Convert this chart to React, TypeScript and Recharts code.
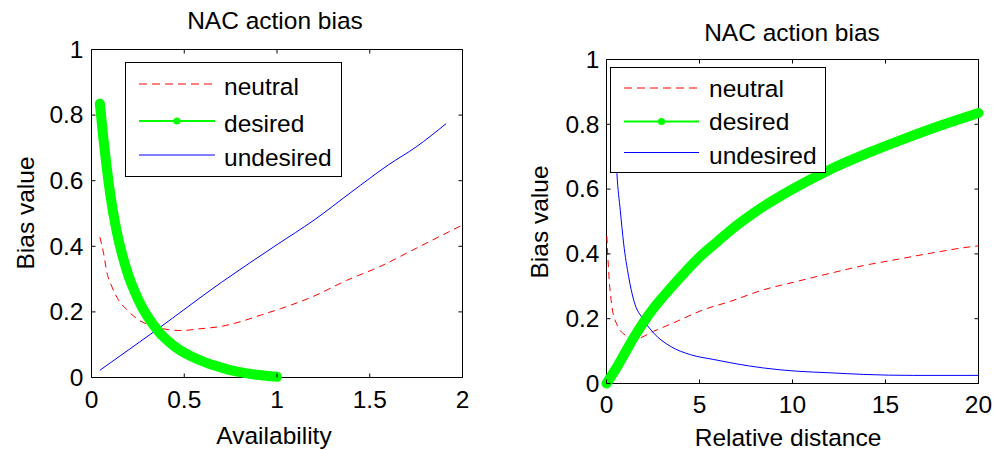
import { Label, Legend, Line, LineChart, ReferenceArea, XAxis, YAxis } from "recharts";

const FONT = '"Liberation Sans", Arial, Helvetica, sans-serif';
const FS = 24.5;
const RED = "#ff0000";
const GREEN = "#00ff00";
const BLUE = "#0000ff";

// --- left panel: bias vs availability ---
const availTicks = [0, 0.5, 1, 1.5, 2];
const biasTicks = [0, 0.2, 0.4, 0.6, 0.8, 1];

const neutralAvailX = [0.045, 0.065, 0.082, 0.109, 0.145, 0.19, 0.253, 0.324, 0.414, 0.486, 0.575, 0.7, 0.808, 0.916, 1.02, 1.195, 1.375, 1.554, 1.733, 1.912, 2.0];
const neutralAvailY = [0.428, 0.379, 0.323, 0.278, 0.237, 0.207, 0.176, 0.158, 0.146, 0.143, 0.148, 0.156, 0.171, 0.191, 0.21, 0.247, 0.296, 0.338, 0.389, 0.44, 0.465];

const desiredAvailX = [0.045, 0.063, 0.081, 0.102, 0.134, 0.188, 0.254, 0.362, 0.45, 0.575, 0.66, 0.737, 0.88, 1.0];
const desiredAvailY = [0.835, 0.735, 0.645, 0.555, 0.45, 0.33, 0.235, 0.14, 0.094, 0.055, 0.037, 0.024, 0.009, 0.002];

const undesiredAvailX = [0.045, 0.35, 0.7, 1.0, 1.2, 1.4, 1.6, 1.75, 1.912];
const undesiredAvailY = [0.022, 0.145, 0.29, 0.405, 0.48, 0.565, 0.648, 0.703, 0.774];

// --- right panel: bias vs relative distance ---
const distTicks = [0, 5, 10, 15, 20];

const neutralDistX = [0.02, 0.11, 0.29, 0.56, 1.09, 1.5, 2.53, 3.79, 5.23, 6.63, 8.43, 10.23, 12.02, 13.82, 15.62, 17.41, 19.57, 20];
const neutralDistY = [0.455, 0.351, 0.238, 0.182, 0.146, 0.137, 0.161, 0.192, 0.228, 0.253, 0.289, 0.315, 0.34, 0.364, 0.383, 0.402, 0.422, 0.425];

const desiredDistX = [0, 0.5, 1, 1.5, 2, 2.5, 3, 4, 5, 6, 7, 8, 10, 12, 14, 16, 18, 20];
const desiredDistY = [0, 0.045, 0.095, 0.145, 0.19, 0.23, 0.265, 0.33, 0.39, 0.44, 0.488, 0.53, 0.6, 0.66, 0.71, 0.755, 0.797, 0.835];

const undesiredDistX = [0.38, 0.45, 0.56, 0.74, 0.92, 1.19, 1.46, 1.99, 2.53, 3.43, 4.51, 5.77, 6.85, 8.43, 10.23, 12.02, 13.82, 16.5, 20];
const undesiredDistY = [0.9, 0.78, 0.648, 0.535, 0.433, 0.33, 0.258, 0.197, 0.156, 0.115, 0.089, 0.074, 0.062, 0.048, 0.038, 0.033, 0.028, 0.025, 0.025];

const seriesNames = ["neutral", "desired", "undesired"];

type Pt = { x: number; y: number };
const toPoints = (xs: number[], ys: number[]): Pt[] => xs.map((x, i) => ({ x, y: ys[i] }));

type Frame = { left: number; right: number; top: number; bottom: number };

const LEFT_FRAME: Frame = { left: 91.5, right: 462.5, top: 49.5, bottom: 377.5 };
const RIGHT_FRAME: Frame = { left: 106.5, right: 478.5, top: 59.5, bottom: 383.5 };

// Matlab-style ticks: short marks pointing inwards on both opposite edges
function BottomTick(props: any) {
  const { payload, frame, labelDy } = props;
  const cx = payload.coordinate;
  return (
    <g>
      <line x1={cx} x2={cx} y1={frame.bottom} y2={frame.bottom - 4} stroke="#000" />
      <line x1={cx} x2={cx} y1={frame.top} y2={frame.top + 4} stroke="#000" />
      <text x={cx} y={frame.bottom + labelDy} textAnchor="middle" fontSize={FS} fontFamily={FONT} fill="#000">
        {payload.value}
      </text>
    </g>
  );
}

function LeftTick(props: any) {
  const { payload, frame, labelDx } = props;
  const cy = payload.coordinate;
  return (
    <g>
      <line x1={frame.left} x2={frame.left + 4} y1={cy} y2={cy} stroke="#000" />
      <line x1={frame.right} x2={frame.right - 4} y1={cy} y2={cy} stroke="#000" />
      <text x={frame.left - labelDx} y={cy + 8.3} textAnchor="end" fontSize={FS} fontFamily={FONT} fill="#000">
        {payload.value}
      </text>
    </g>
  );
}

type LegendLayout = {
  w: number;
  h: number;
  lineX1: number;
  lineX2: number;
  textX: number;
  lineY: number[];
  baseY: number[];
};

function LegendBox({ layout }: { layout: LegendLayout }) {
  const { w, h, lineX1, lineX2, textX, lineY, baseY } = layout;
  const mid = (lineX1 + lineX2) / 2;
  return (
    <div style={{ width: w, height: h, boxSizing: "border-box", border: "1px solid #000", background: "#fff" }}>
      <svg width={w - 2} height={h - 2} style={{ display: "block" }}>
        <line x1={lineX1} x2={lineX2} y1={lineY[0]} y2={lineY[0]} stroke={RED} strokeWidth={1} strokeDasharray="8 5" />
        <line x1={lineX1} x2={lineX2} y1={lineY[1]} y2={lineY[1]} stroke={GREEN} strokeWidth={2} />
        <circle cx={mid} cy={lineY[1]} r={3.6} fill={GREEN} />
        <line x1={lineX1} x2={lineX2} y1={lineY[2]} y2={lineY[2]} stroke={BLUE} strokeWidth={1} />
        {seriesNames.map((name, i) => (
          <text key={name} x={textX} y={baseY[i]} fontSize={FS} fontFamily={FONT} fill="#000">
            {name}
          </text>
        ))}
      </svg>
    </div>
  );
}

function AxisText({ x, y, text, rotate }: { x: number; y: number; text: string; rotate?: boolean }) {
  return (
    <text
      x={x}
      y={y}
      textAnchor="middle"
      fontSize={FS}
      fontFamily={FONT}
      fill="#000"
      transform={rotate ? `rotate(-90, ${x}, ${y})` : undefined}
    >
      {text}
    </text>
  );
}

type PanelProps = {
  left: number;
  width: number;
  frame: Frame;
  xDomain: [number, number];
  xTicks: number[];
  xLabel: string;
  xLabelPos: [number, number];
  yLabelPos: [number, number];
  neutral: Pt[];
  desired: Pt[];
  undesired: Pt[];
  legendPos: [number, number];
  legend: LegendLayout;
  labelDy: number;
  labelDx: number;
};

function Panel(p: PanelProps) {
  const { frame } = p;
  return (
    <div style={{ position: "absolute", left: p.left, top: 0 }}>
      <LineChart
        width={p.width}
        height={450}
        margin={{ top: frame.top, right: p.width - frame.right, left: 0.5, bottom: 0 }}
      >
        <XAxis
          dataKey="x"
          type="number"
          domain={p.xDomain}
          ticks={p.xTicks}
          interval={0}
          height={450 - frame.bottom}
          axisLine={false}
          tickLine={false}
          tickSize={0}
          tickMargin={0}
          tick={(tp: any) => <BottomTick {...tp} frame={frame} labelDy={p.labelDy} />}
        >
          <Label content={() => <AxisText x={p.xLabelPos[0]} y={p.xLabelPos[1]} text={p.xLabel} />} />
        </XAxis>
        <YAxis
          type="number"
          domain={[0, 1]}
          ticks={biasTicks}
          interval={0}
          width={frame.left - 0.5}
          axisLine={false}
          tickLine={false}
          tickSize={0}
          tickMargin={0}
          tick={(tp: any) => <LeftTick {...tp} frame={frame} labelDx={p.labelDx} />}
        >
          <Label content={() => <AxisText x={p.yLabelPos[0]} y={p.yLabelPos[1]} text="Bias value" rotate />} />
        </YAxis>
        <ReferenceArea
          x1={p.xDomain[0]}
          x2={p.xDomain[1]}
          y1={0}
          y2={1}
          fill="none"
          fillOpacity={0}
          stroke="#000"
          strokeWidth={1}
        />
        <Line
          data={p.neutral}
          dataKey="y"
          type="monotone"
          stroke={RED}
          strokeWidth={1}
          strokeDasharray="7 5"
          dot={false}
          activeDot={false}
          isAnimationActive={false}
        />
        <Line
          data={p.undesired}
          dataKey="y"
          type="monotone"
          stroke={BLUE}
          strokeWidth={1}
          dot={false}
          activeDot={false}
          isAnimationActive={false}
        />
        <Line
          data={p.desired}
          dataKey="y"
          type="monotone"
          stroke={GREEN}
          strokeWidth={10}
          strokeLinecap="round"
          strokeLinejoin="round"
          dot={false}
          activeDot={false}
          isAnimationActive={false}
        />
        <Legend
          layout="vertical"
          verticalAlign="middle"
          align="center"
          wrapperStyle={{
            left: p.legendPos[0],
            top: p.legendPos[1],
            width: p.legend.w,
            height: p.legend.h,
            zIndex: 10,
          }}
          content={() => <LegendBox layout={p.legend} />}
        />
      </LineChart>
    </div>
  );
}

const titleStyle = {
  position: "absolute" as const,
  width: 220,
  textAlign: "center" as const,
  fontSize: FS,
  lineHeight: `${FS}px`,
  fontFamily: FONT,
  color: "#000",
  whiteSpace: "nowrap" as const,
};

export default function App() {
  return (
    <div
      style={{
        position: "absolute",
        left: 0,
        top: 0,
        width: 993,
        height: 450,
        background: "#fff",
        overflow: "hidden",
        fontFamily: FONT,
      }}
    >
      <div style={{ ...titleStyle, left: 165, top: 8.6 }}>NAC action bias</div>
      <div style={{ ...titleStyle, left: 682, top: 21 }}>NAC action bias</div>

      <Panel
        left={0}
        width={490}
        frame={LEFT_FRAME}
        xDomain={[0, 2]}
        xTicks={availTicks}
        xLabel="Availability"
        xLabelPos={[274, 444]}
        yLabelPos={[33.5, 213]}
        neutral={toPoints(neutralAvailX, neutralAvailY)}
        desired={toPoints(desiredAvailX, desiredAvailY)}
        undesired={toPoints(undesiredAvailX, undesiredAvailY)}
        legendPos={[125, 62]}
        legend={{ w: 217, h: 115, lineX1: 13, lineX2: 89, textX: 98, lineY: [21, 58, 92], baseY: [31.5, 68.5, 103] }}
        labelDy={30}
        labelDx={8}
      />
      <Panel
        left={500}
        width={493}
        frame={RIGHT_FRAME}
        xDomain={[0, 20]}
        xTicks={distTicks}
        xLabel="Relative distance"
        xLabelPos={[288, 446]}
        yLabelPos={[48, 222]}
        neutral={toPoints(neutralDistX, neutralDistY)}
        desired={toPoints(desiredDistX, desiredDistY)}
        undesired={toPoints(undesiredDistX, undesiredDistY)}
        legendPos={[110, 67]}
        legend={{ w: 216, h: 106, lineX1: 13, lineX2: 88, textX: 98, lineY: [20, 53.5, 84.5], baseY: [28.5, 61.5, 95.5] }}
        labelDy={29.5}
        labelDx={7}
      />
    </div>
  );
}
